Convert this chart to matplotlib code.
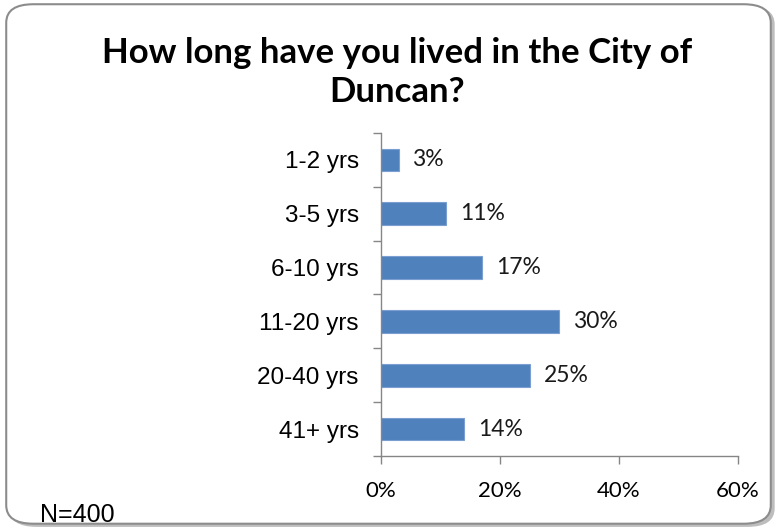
import matplotlib
matplotlib.use("Agg")
import matplotlib.pyplot as plt
from matplotlib.patches import FancyBboxPatch
from matplotlib.ticker import FuncFormatter

categories = ["1-2 yrs", "3-5 yrs", "6-10 yrs", "11-20 yrs", "20-40 yrs", "41+ yrs"]
shares = [3, 11, 17, 30, 25, 14]
x_ticks = [0, 20, 40, 60]

BAR = "#4f81bd"
AXIS = "#868686"

fig = plt.figure(figsize=(7.77, 5.29), dpi=100)
fig.patch.set_facecolor("white")

# rounded frame with a soft drop shadow, kept behind the axes
shadow = FancyBboxPatch((0.012, 0.004), 0.985, 0.985,
                        boxstyle="round,pad=0,rounding_size=0.035",
                        transform=fig.transFigure, facecolor="#bdbdbd",
                        edgecolor="none", zorder=-2)
frame = FancyBboxPatch((0.008, 0.01), 0.984, 0.982,
                       boxstyle="round,pad=0,rounding_size=0.035",
                       transform=fig.transFigure, facecolor="white",
                       edgecolor="#8c8c8c", linewidth=1.5, zorder=-1)
fig.patches.extend([shadow, frame])

ax = fig.add_axes([0.4903, 0.138, 0.4595, 0.6106])
ax.set_facecolor("none")
y = list(range(len(categories)))
ax.barh(y, shares, height=0.42, color=BAR, edgecolor="#7a9fd0", linewidth=0.8)
ax.set_ylim(len(categories) - 0.5, -0.5)
ax.set_xlim(0, 60)

ax.set_yticks(y)
ax.set_yticklabels(categories, family=["Liberation Sans Narrow", "Liberation Sans"],
                   fontsize=17.5)
ax.set_yticks([i - 0.5 for i in range(len(categories) + 1)], minor=True)
ax.tick_params(axis="y", which="major", length=0, pad=16)
ax.tick_params(axis="y", which="minor", length=6, width=1, color=AXIS)

ax.set_xticks(x_ticks)
ax.xaxis.set_major_formatter(FuncFormatter(lambda v, _: f"{v:.0f}%"))
ax.tick_params(axis="x", length=6, width=1, color=AXIS, pad=12)
for lab in ax.get_xticklabels():
    lab.set_family("Lato")
    lab.set_fontsize(16)

for side in ("top", "right"):
    ax.spines[side].set_visible(False)
for side in ("left", "bottom"):
    ax.spines[side].set_color(AXIS)
    ax.spines[side].set_linewidth(1)

for yi, v in zip(y, shares):
    ax.text(v + 2.3, yi, f"{v}%", va="center", ha="left",
            family="Lato", fontsize=16.5, color="#1a1a1a")

fig.text(0.511, 0.863, "How long have you lived in the City of\nDuncan?",
         ha="center", va="center", family="Lato", fontweight="bold",
         fontsize=25, linespacing=1.3, color="black")

fig.text(0.052, 0.026, "N=400", ha="left", va="center",
         family="Liberation Sans", fontsize=18, color="black")

fig.savefig("out.png", dpi=100, facecolor="white")
